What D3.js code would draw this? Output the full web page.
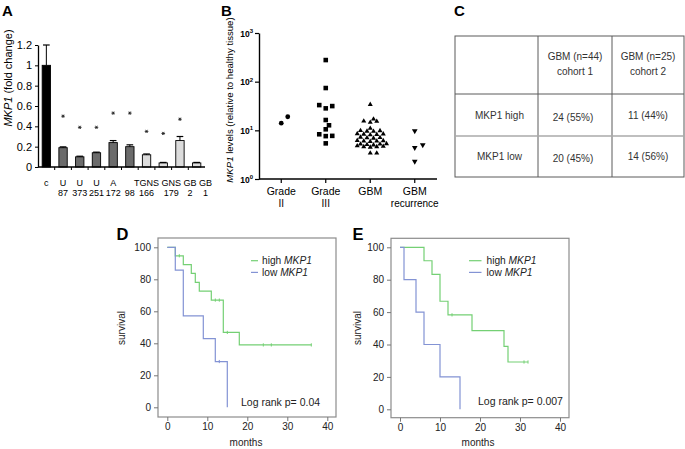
<!DOCTYPE html>
<html><head><meta charset="utf-8">
<script src="https://cdn.jsdelivr.net/npm/d3@7"></script>
<style>
body{margin:0;background:#fff}
svg{display:block;opacity:0.999}
text{font-family:"Liberation Sans",Arial,Helvetica,sans-serif}
</style>
</head><body>
<svg id="chart" width="685" height="449"></svg>
<script>
// ---------------- DATA ----------------
// Panel A
const cellLineTop    = ["c","U","U","U","A","","TGNS","GNS","GB","GB"];
const cellLineBottom = ["","87","373","251","172","98","166","179","2","1"];
const cellType       = ["control","glioma","glioma","glioma","glioma","glioma","stem","stem","stem","stem"];
const foldChange     = [1.0,0.19,0.10,0.14,0.24,0.20,0.12,0.04,0.26,0.04];
const foldError      = [0.2,0.008,0.006,0.006,0.02,0.018,0.008,0.005,0.04,0.005];
const starLevel      = [null,0.50,0.39,0.39,0.53,0.53,0.35,0.33,0.47,null];
const yTicksA        = [0,0.2,0.4,0.6,0.8,1,1.2];

// Panel B
const gradeLabelTop    = ["Grade","Grade","GBM","GBM"];
const gradeLabelBottom = ["II","III","","recurrence"];
const gradeII       = [14,19];
const gradeIII      = [278,74,31.5,28.3,33,16.3,12.7,10.5,7.7,7.6,8.3,5.4];
const gbm           = [34,17,14.6,15.5,15.3,11.0,9.9,9.6,9.8,9.5,8.4,8.2,8.3,8.1,8.5,7.1,7.0,6.9,7.2,6.1,6.0,5.9,6.2,6.0,5.3,5.2,5.1,5.2,5.0,4.7,4.6,4.5,4.6,4.8,3.4,3.4];
const gbmRecurrence = [9.7,5.0,4.4,2.3];
const yTicksB       = [1,10,100,1000];
const yExpB         = ["0","1","2","3"];

// Panel C
const tableHeadTop    = ["GBM (n=44)","GBM (n=25)"];
const tableHeadBottom = ["cohort 1","cohort 2"];
const tableRowHeads   = ["MKP1 high","MKP1 low"];
const tableCells      = [["24 (55%)","11 (44%)"],["20 (45%)","14 (56%)"]];

// Panel D (cohort 1)
const dHighTime   = [0,2,4,6,7,8,11,14,18,36];
const dHighSurv   = [100,94.7,89.2,83.7,78.1,72.6,67.0,46.8,39.0,39.0];
const dHighCensor = [3,12,13,15,24,26,36];
const dLowTime    = [0,2,4,9,12,15];
const dLowSurv    = [100,85.7,57.1,42.9,28.6,0];
const dLowCensor  = [13];
const dPValue = "0.04";

// Panel E (cohort 2)
const eHighTime   = [0,6,8,10,12,18,26,27,32];
const eHighSurv   = [100,91.7,83.3,66.7,58.3,48.6,38.9,29.2,29.2];
const eHighCensor = [13,31,32];
const eLowTime    = [0,1,4,6,10,15];
const eLowSurv    = [100,80,60,40,20,0];
const eLowCensor  = [];
const ePValue = "0.007";

const survTicks  = [0,20,40,60,80,100];
const monthTicks = [0,10,20,30,40];

// ---------------- DRAW ----------------
const svg = d3.select("#chart");
svg.append("rect").attr("width",685).attr("height",449).attr("fill","#fff");

function letter(t,x,y,size){
  svg.append("text").attr("x",x).attr("y",y).attr("font-size",size).attr("font-weight","bold").attr("fill","#000").text(t);
}

// ===== Panel A =====
(function(){
  const g = svg.append("g");
  const x = d3.scaleBand().domain(d3.range(foldChange.length)).range([38,205]).paddingInner(0.5).paddingOuter(0.25);
  const y = d3.scaleLinear().domain([0,1.2]).range([167,45]);
  const fill = {control:"#000", glioma:"#6b6b6b", stem:"#dcdcdc"};

  g.selectAll(".bar").data(foldChange).join("rect")
    .attr("x",(d,i)=>x(i)).attr("y",d=>y(d)).attr("width",x.bandwidth())
    .attr("height",d=>y(0)-y(d)).attr("fill",(d,i)=>fill[cellType[i]])
    .attr("stroke","#000").attr("stroke-width",0.9);
  foldChange.forEach((d,i)=>{
    const cx = x(i)+x.bandwidth()/2, cw = x.bandwidth()*0.4;
    g.append("line").attr("x1",cx).attr("x2",cx).attr("y1",y(d)).attr("y2",y(d+foldError[i])).attr("stroke","#000").attr("stroke-width",1);
    g.append("line").attr("x1",cx-cw).attr("x2",cx+cw).attr("y1",y(d+foldError[i])).attr("y2",y(d+foldError[i])).attr("stroke","#000").attr("stroke-width",1.2);
  });
  // significance asterisks
  starLevel.forEach((s,i)=>{
    if(s==null) return;
    g.append("path").attr("d",d3.symbol().type(d3.symbolAsterisk).size(9)())
      .attr("transform",`translate(${x(i)+x.bandwidth()/2},${y(s)}) rotate(90)`)
      .attr("fill","none").attr("stroke","#222").attr("stroke-width",0.9);
  });
  const ya = g.append("g").attr("transform","translate(38,0)")
    .call(d3.axisLeft(y).tickValues(yTicksA).tickSize(3).tickSizeOuter(0).tickPadding(3).tickFormat(d=>d3.format("~g")(d)));
  ya.selectAll("text").attr("font-size",11).attr("fill","#000").attr("font-family","Liberation Sans, Arial, sans-serif");
  ya.select(".domain").attr("stroke-width",1.3);
  g.append("line").attr("x1",38).attr("x2",205).attr("y1",167).attr("y2",167).attr("stroke","#000").attr("stroke-width",1.3);
  d3.range(foldChange.length-1).forEach(i=>{
    const tx = x(i)+x.bandwidth()/2+x.step()/2;
    g.append("line").attr("x1",tx).attr("x2",tx).attr("y1",167).attr("y2",170).attr("stroke","#000");
  });
  // category labels: centered on bars, nudged right when they would collide
  let prevRight = -1e9;
  cellLineTop.forEach((t,i)=>{
    const cx = x(i)+x.bandwidth()/2;
    const top = g.append("text").attr("x",cx).attr("y",186).attr("text-anchor","middle").attr("font-size",9).attr("fill","#000").text(t);
    const w = t ? top.node().getComputedTextLength() : 0;
    let shift = 0;
    if(w>0){
      if(cx-w/2 < prevRight+2.5) shift = prevRight+2.5-(cx-w/2);
      top.attr("x",cx+shift);
      prevRight = cx+shift+w/2;
    }
    g.append("text").attr("x",cx+shift).attr("y",196).attr("text-anchor","middle").attr("font-size",9).attr("fill","#000").text(cellLineBottom[i]);
  });
  const yl = g.append("text").attr("transform","translate(12,78) rotate(-90)").attr("text-anchor","middle").attr("font-size",11).attr("fill","#000");
  yl.append("tspan").attr("font-style","italic").text("MKP1");
  yl.append("tspan").text(" (fold change)");
})();
letter("A",2,15.7,15);

// ===== Panel B =====
(function(){
  const g = svg.append("g");
  const y = d3.scaleLog().domain([1,1000]).range([179,33]);
  const x = d3.scalePoint().domain(d3.range(4)).range([259,437]).padding(0.5);

  // dot-plot layout: spreads points with similar values sideways
  function layout(values, h, dmin){
    const placed = [], off = new Array(values.length);
    const order = d3.range(values.length).sort((a,b)=>values[a]-values[b]);
    order.forEach(i=>{
      const py = y(values[i]);
      for(let k=0;k<40;k++){
        const s = k===0?0:(k%2===1?(k+1)/2:-k/2);
        const ox = s*h;
        if(!placed.some(p=>Math.hypot(p.x-ox,p.y-py)<dmin)){placed.push({x:ox,y:py});off[i]=ox;break;}
      }
    });
    return off;
  }
  const groups = [
    {vals:gradeII, sym:d3.symbolCircle, size:18, rot:0, h:6.5, dmin:7},
    {vals:gradeIII, sym:d3.symbolSquare, size:21, rot:0, h:3.25, dmin:5},
    {vals:gbm, sym:d3.symbolTriangle, size:11, rot:0, h:3.25, dmin:3.5},
    {vals:gbmRecurrence, sym:d3.symbolTriangle, size:14, rot:180, h:4, dmin:6}
  ];
  groups.forEach((gr,gi)=>{
    const off = layout(gr.vals, gr.h, gr.dmin);
    g.selectAll(null).data(gr.vals).join("path")
      .attr("d",d3.symbol().type(gr.sym).size(gr.size))
      .attr("transform",(d,i)=>`translate(${x(gi)+off[i]},${y(d)}) rotate(${gr.rot})`)
      .attr("fill","#000");
  });

  const ya = g.append("g").attr("transform","translate(259,0)")
    .call(d3.axisLeft(y).tickValues(yTicksB).tickSize(4).tickSizeOuter(0).tickFormat(""));
  ya.select(".domain").attr("stroke-width",1.4);
  ya.selectAll(".tick line").attr("stroke-width",1.2);
  yTicksB.forEach((v,i)=>{
    const t = g.append("text").attr("x",253).attr("y",y(v)+3.5).attr("text-anchor","end").attr("font-size",8.5).attr("font-weight","bold").attr("fill","#000");
    t.append("tspan").text("10");
    t.append("tspan").attr("font-size",6).attr("dy",-3.5).text(yExpB[i]);
  });
  g.append("line").attr("x1",259).attr("x2",437).attr("y1",179).attr("y2",179).attr("stroke","#000").attr("stroke-width",1.4);
  d3.range(4).forEach(i=>{
    g.append("line").attr("x1",x(i)).attr("x2",x(i)).attr("y1",179).attr("y2",183).attr("stroke","#000").attr("stroke-width",1.2);
    g.append("text").attr("x",x(i)).attr("y",195).attr("text-anchor","middle").attr("font-size",10.5).attr("fill","#000").text(gradeLabelTop[i]);
    g.append("text").attr("x",x(i)).attr("y",207).attr("text-anchor","middle").attr("font-size",10).attr("fill","#000").text(gradeLabelBottom[i]);
  });
  const yl = g.append("text").attr("transform","translate(233,100) rotate(-90)").attr("text-anchor","middle").attr("font-size",9.6).attr("fill","#000");
  yl.append("tspan").attr("font-style","italic").text("MKP1");
  yl.append("tspan").text(" levels (relative to healthy tissue)");
})();
letter("B",221,15.7,15);

// ===== Panel C =====
(function(){
  const g = svg.append("g");
  const colX = [455,538,612,684], rowY = [36,94,136,177];
  const stroke = "#5a5a5a";
  g.append("rect").attr("x",colX[0]).attr("y",rowY[0]).attr("width",colX[3]-colX[0]).attr("height",rowY[3]-rowY[0]).attr("fill","none").attr("stroke",stroke).attr("stroke-width",1);
  [colX[1],colX[2]].forEach(cx=>g.append("line").attr("x1",cx).attr("x2",cx).attr("y1",rowY[0]).attr("y2",rowY[3]).attr("stroke",stroke));
  g.append("line").attr("x1",colX[0]).attr("x2",colX[3]).attr("y1",rowY[1]).attr("y2",rowY[1]).attr("stroke",stroke);
  g.append("line").attr("x1",colX[0]).attr("x2",colX[3]).attr("y1",rowY[2]).attr("y2",rowY[2]).attr("stroke","#aaa").attr("stroke-width",1.6);
  const fs = 10, col = "#333";
  tableHeadTop.forEach((t,i)=>{
    const cx = (colX[i+1]+colX[i+2])/2;
    g.append("text").attr("x",cx).attr("y",60).attr("text-anchor","middle").attr("font-size",fs).attr("fill",col).text(t);
    g.append("text").attr("x",cx).attr("y",75).attr("text-anchor","middle").attr("font-size",fs).attr("fill",col).text(tableHeadBottom[i]);
  });
  tableRowHeads.forEach((t,r)=>{
    const cy = (rowY[r+1]+rowY[r+2])/2;
    g.append("text").attr("x",(colX[0]+colX[1])/2+3).attr("y",cy+3.5).attr("text-anchor","middle").attr("font-size",fs).attr("fill",col).text(t);
    tableCells[r].forEach((c,ci)=>{
      g.append("text").attr("x",(colX[ci+1]+colX[ci+2])/2 - (ci===0?2:0)).attr("y",cy+3.5+(ci===0?2:0)).attr("text-anchor","middle").attr("font-size",fs).attr("fill",col).text(c);
    });
  });
})();
letter("C",454,15.7,15);

// ===== Panels D & E =====
function kmPanel(cfg){
  const g = svg.append("g");
  const x = d3.scaleLinear().domain([0,40]).range(cfg.xr);
  const y = d3.scaleLinear().domain([0,100]).range(cfg.yr);
  const green = "#74d074", blue = "#8393d4";
  g.append("rect").attr("x",cfg.frame[0]).attr("y",cfg.frame[1]).attr("width",cfg.frame[2]-cfg.frame[0]).attr("height",cfg.frame[3]-cfg.frame[1])
    .attr("fill","none").attr("stroke","#8c8c8c").attr("stroke-width",1.2);
  const ya = g.append("g").attr("transform",`translate(${cfg.frame[0]},0)`)
    .call(d3.axisLeft(y).tickValues(survTicks).tickSize(4).tickPadding(3).tickSizeOuter(0));
  const xa = g.append("g").attr("transform",`translate(0,${cfg.frame[3]})`)
    .call(d3.axisBottom(x).tickValues(monthTicks).tickSize(4).tickPadding(2).tickSizeOuter(0));
  [ya,xa].forEach(a=>{
    a.select(".domain").remove();
    a.selectAll(".tick line").attr("stroke","#777");
    a.selectAll("text").attr("font-size",10).attr("fill","#222").attr("font-family","Liberation Sans, Arial, sans-serif");
  });
  const line = d3.line().curve(d3.curveStepAfter).x(d=>x(d[0])).y(d=>y(d[1]));
  function curve(times,surv,censor,color){
    const pts = times.map((t,i)=>[t,surv[i]]);
    g.append("path").attr("d",line(pts)).attr("fill","none").attr("stroke",color).attr("stroke-width",1.2);
    censor.forEach(c=>{
      let s = surv[0];
      times.forEach((t,i)=>{ if(t<=c) s = surv[i]; });
      g.append("line").attr("x1",x(c)).attr("x2",x(c)).attr("y1",y(s)-1.6).attr("y2",y(s)+1.6).attr("stroke",color).attr("stroke-width",1);
    });
  }
  curve(cfg.highT,cfg.highS,cfg.highC,green);
  curve(cfg.lowT,cfg.lowS,cfg.lowC,blue);
  [[green,"high "],[blue,"low "]].forEach((l,i)=>{
    const ly = cfg.leg[1]+i*11.7;
    g.append("line").attr("x1",cfg.leg[0]).attr("x2",cfg.leg[0]+cfg.legLen).attr("y1",ly).attr("y2",ly).attr("stroke",l[0]).attr("stroke-width",1.2);
    const t = g.append("text").attr("x",cfg.leg[2]).attr("y",ly+3.5).attr("font-size",10.2).attr("fill","#222");
    t.append("tspan").text(l[1]);
    t.append("tspan").attr("font-style","italic").text("MKP1");
  });
  g.append("text").attr("x",cfg.pPos[0]).attr("y",cfg.pPos[1]).attr("font-size",10.5).attr("fill","#222").text("Log rank p= "+cfg.p);
  g.append("text").attr("transform",`translate(${cfg.survX},328) rotate(-90)`).attr("text-anchor","middle").attr("font-size",10).attr("fill","#222").text("survival");
  g.append("text").attr("x",cfg.monthsX).attr("y",446).attr("text-anchor","middle").attr("font-size",10).attr("fill","#222").text("months");
}
kmPanel({xr:[167.3,327.3], yr:[407.3,247.3], frame:[158,238,336,417],
  highT:dHighTime, highS:dHighSurv, highC:dHighCensor, lowT:dLowTime, lowS:dLowSurv, lowC:dLowCensor,
  leg:[251,260.7,262], legLen:7, pPos:[241,406], p:dPValue, survX:125, monthsX:246});
kmPanel({xr:[400,560], yr:[409.3,247.3], frame:[391,238.3,569,417.7],
  highT:eHighTime, highS:eHighSurv, highC:eHighCensor, lowT:eLowTime, lowS:eLowSurv, lowC:eLowCensor,
  leg:[469,260.7,486.5], legLen:12.5, pPos:[478,405], p:ePValue, survX:361, monthsX:478});
letter("D",116.5,240,16.5);
letter("E",352.5,240,16.5);
</script>
</body></html>
